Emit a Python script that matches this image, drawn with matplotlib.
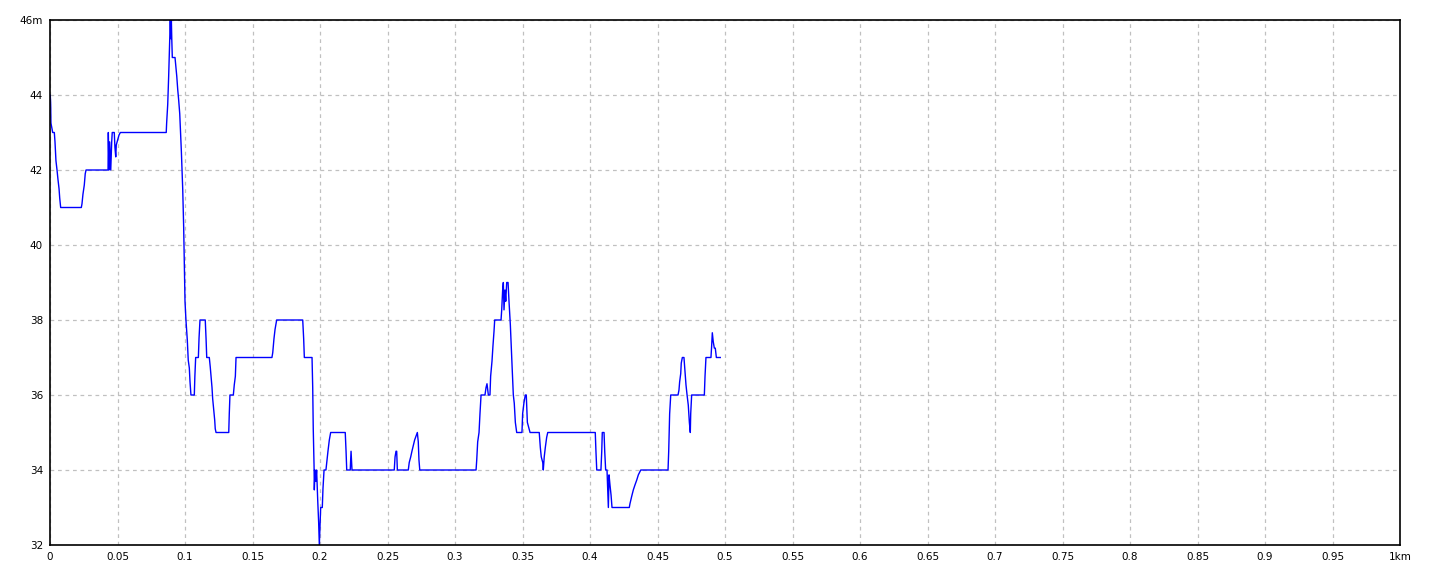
import numpy as np
import matplotlib
matplotlib.use("Agg")
import matplotlib.pyplot as plt

# elevation profile (distance in km, elevation in m)
dist_km = [
    0.0000, 0.0002, 0.0005, 0.0007, 0.0020, 0.0032, 0.0037, 0.0044, 0.0052, 0.0059,
    0.0067, 0.0072, 0.0079, 0.0232, 0.0237, 0.0244, 0.0254, 0.0261, 0.0267, 0.0430,
    0.0432, 0.0437, 0.0442, 0.0450, 0.0457, 0.0461, 0.0476, 0.0481, 0.0487, 0.0491,
    0.0501, 0.0511, 0.0521, 0.0861, 0.0864, 0.0872, 0.0879, 0.0887, 0.0891, 0.0895,
    0.0899, 0.0902, 0.0906, 0.0926, 0.0931, 0.0939, 0.0946, 0.0953, 0.0961, 0.0965,
    0.0973, 0.0983, 0.0990, 0.0995, 0.1000, 0.1007, 0.1017, 0.1024, 0.1032, 0.1037,
    0.1044, 0.1069, 0.1073, 0.1079, 0.1099, 0.1104, 0.1111, 0.1150, 0.1156, 0.1161,
    0.1180, 0.1187, 0.1193, 0.1200, 0.1205, 0.1213, 0.1220, 0.1224, 0.1230, 0.1324,
    0.1328, 0.1333, 0.1358, 0.1365, 0.1373, 0.1378, 0.1644, 0.1650, 0.1659, 0.1667,
    0.1679, 0.1872, 0.1879, 0.1884, 0.1941, 0.1946, 0.1950, 0.1956, 0.1958, 0.1963,
    0.1969, 0.1975, 0.1983, 0.1990, 0.1995, 0.2000, 0.2005, 0.2017, 0.2022, 0.2030,
    0.2044, 0.2052, 0.2059, 0.2069, 0.2079, 0.2187, 0.2193, 0.2198, 0.2224, 0.2230,
    0.2237, 0.2550, 0.2556, 0.2563, 0.2568, 0.2573, 0.2654, 0.2661, 0.2672, 0.2681,
    0.2691, 0.2701, 0.2711, 0.2721, 0.2728, 0.2733, 0.2739, 0.3156, 0.3161, 0.3168,
    0.3178, 0.3185, 0.3193, 0.3222, 0.3230, 0.3237, 0.3247, 0.3259, 0.3264, 0.3274,
    0.3281, 0.3289, 0.3294, 0.3341, 0.3346, 0.3353, 0.3358, 0.3363, 0.3370, 0.3376,
    0.3383, 0.3393, 0.3400, 0.3410, 0.3417, 0.3424, 0.3432, 0.3439, 0.3447, 0.3457,
    0.3496, 0.3501, 0.3511, 0.3521, 0.3528, 0.3536, 0.3546, 0.3556, 0.3624, 0.3632,
    0.3639, 0.3650, 0.3654, 0.3661, 0.3669, 0.3679, 0.3687, 0.4039, 0.4044, 0.4050,
    0.4081, 0.4087, 0.4091, 0.4104, 0.4109, 0.4116, 0.4126, 0.4131, 0.4136, 0.4141,
    0.4148, 0.4156, 0.4163, 0.4291, 0.4296, 0.4309, 0.4321, 0.4333, 0.4346, 0.4358,
    0.4376, 0.4578, 0.4583, 0.4590, 0.4598, 0.4652, 0.4659, 0.4664, 0.4672, 0.4676,
    0.4684, 0.4696, 0.4704, 0.4711, 0.4719, 0.4728, 0.4736, 0.4743, 0.4746, 0.4753,
    0.4847, 0.4852, 0.4859, 0.4896, 0.4901, 0.4906, 0.4913, 0.4921, 0.4928, 0.4936,
    0.4965,
]
elev_m = [
    43.75, 44.00, 43.75, 43.25, 43.00, 43.00, 42.75, 42.25, 42.00, 41.75,
    41.50, 41.25, 41.00, 41.00, 41.10, 41.35, 41.60, 41.90, 42.00, 42.00,
    43.00, 42.00, 42.75, 42.00, 42.75, 43.00, 43.00, 42.60, 42.35, 42.67,
    42.80, 42.93, 43.00, 43.00, 43.25, 43.75, 44.50, 45.50, 46.00, 45.50,
    46.00, 45.50, 45.00, 45.00, 44.80, 44.50, 44.15, 43.87, 43.50, 43.17,
    42.50, 41.50, 40.50, 39.50, 38.50, 38.00, 37.47, 36.93, 36.72, 36.36,
    36.00, 36.00, 36.49, 37.00, 37.00, 37.52, 38.00, 38.00, 37.50, 37.00,
    37.00, 36.75, 36.50, 36.20, 35.90, 35.60, 35.33, 35.10, 35.00, 35.00,
    35.50, 36.00, 36.00, 36.27, 36.50, 37.00, 37.00, 37.13, 37.50, 37.75,
    38.00, 38.00, 37.50, 37.00, 37.00, 36.20, 35.10, 34.10, 33.47, 34.00,
    33.70, 34.00, 33.20, 32.60, 32.00, 32.49, 33.00, 33.00, 33.50, 34.00,
    34.00, 34.27, 34.50, 34.80, 35.00, 35.00, 34.50, 34.00, 34.00, 34.50,
    34.00, 34.00, 34.35, 34.50, 34.50, 34.00, 34.00, 34.20, 34.35, 34.50,
    34.65, 34.80, 34.90, 35.00, 34.75, 34.27, 34.00, 34.00, 34.27, 34.75,
    35.00, 35.50, 36.00, 36.00, 36.20, 36.30, 36.00, 36.00, 36.50, 36.90,
    37.30, 37.70, 38.00, 38.00, 38.27, 38.80, 39.00, 38.27, 38.80, 38.50,
    39.00, 39.00, 38.50, 37.87, 37.25, 36.67, 36.00, 35.78, 35.27, 35.00,
    35.00, 35.50, 35.80, 36.00, 36.00, 35.27, 35.13, 35.00, 35.00, 34.60,
    34.35, 34.20, 34.00, 34.35, 34.60, 34.87, 35.00, 35.00, 34.50, 34.00,
    34.00, 34.50, 35.00, 35.00, 34.50, 34.00, 34.00, 33.47, 33.00, 33.87,
    33.60, 33.33, 33.00, 33.00, 33.10, 33.30, 33.47, 33.60, 33.73, 33.87,
    34.00, 34.00, 34.50, 35.50, 36.00, 36.00, 36.13, 36.35, 36.57, 36.85,
    37.00, 37.00, 36.60, 36.27, 36.00, 35.73, 35.27, 35.00, 35.50, 36.00,
    36.00, 36.50, 37.00, 37.00, 37.30, 37.66, 37.42, 37.25, 37.25, 37.00,
    37.00,
]

x_ticks = [i * 0.05 for i in range(21)]
x_labels = ["0", "0.05", "0.1", "0.15", "0.2", "0.25", "0.3", "0.35", "0.4", "0.45",
            "0.5", "0.55", "0.6", "0.65", "0.7", "0.75", "0.8", "0.85", "0.9", "0.95", "1km"]
y_ticks = [32, 34, 36, 38, 40, 42, 44, 46]
y_labels = ["32", "34", "36", "38", "40", "42", "44", "46m"]

fig = plt.figure(figsize=(14.4, 5.76), dpi=100)
ax = fig.add_axes([50 / 1440, 31 / 576, 1350 / 1440, 525 / 576])

ax.plot(dist_km, elev_m, color="#0000ff", linewidth=1.0)

ax.set_xlim(0, 1)
ax.set_ylim(32, 46)
ax.set_xticks(x_ticks)
ax.set_xticklabels(x_labels)
ax.set_yticks(y_ticks)
ax.set_yticklabels(y_labels)
ax.tick_params(length=0, labelsize=7.5, pad=5)
ax.grid(True, color="#c0c0c0", linestyle=(0, (3, 3)), linewidth=0.9)
ax.set_axisbelow(True)
for s in ax.spines.values():
    s.set_color("black")
    s.set_linewidth(1.2)

fig.savefig("out.png", dpi=100)
